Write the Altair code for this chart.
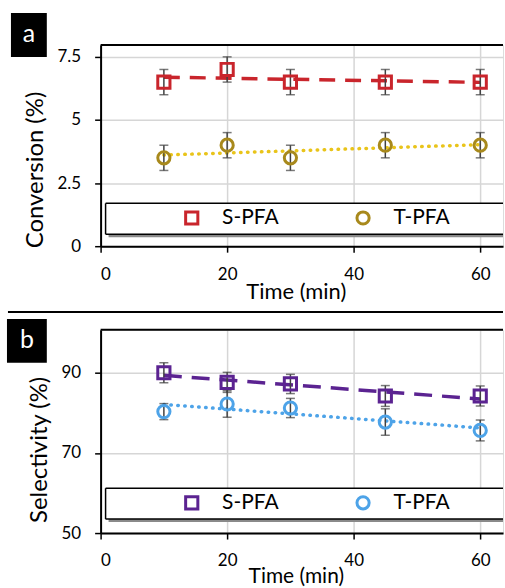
import altair as alt
import pandas as pd

# ---- data ----
time_min = [10, 20, 30, 45, 60]
series_names = ["S-PFA", "T-PFA"]

conv_s = [6.5, 7.0, 6.5, 6.5, 6.5]
conv_s_err = [0.5, 0.5, 0.5, 0.5, 0.5]
conv_t = [3.5, 4.0, 3.5, 4.0, 4.0]
conv_t_err = [0.5, 0.5, 0.5, 0.5, 0.5]

sel_s = [90.0, 87.6, 87.2, 84.2, 84.2]
sel_s_err = [2.5, 2.5, 2.4, 2.6, 2.5]
sel_t = [80.3, 82.2, 81.2, 77.7, 75.6]
sel_t_err = [2.0, 3.3, 2.4, 3.3, 2.6]

x_ticks = [0, 20, 40, 60]
FONT = "Lato"
W = 404


def make_df(vs, es, vt, et):
    rows = []
    for name, vals, errs in [(series_names[0], vs, es), (series_names[1], vt, et)]:
        for t, v, e in zip(time_min, vals, errs):
            rows.append(dict(time=t, value=v, lo=v - e, hi=v + e, series=name))
    return pd.DataFrame(rows)


def panel(df, ydom, yticks, ytitle, ytitle_x, ytitle_y, height, marker_colors,
          line_colors, dashes, label, label_box, xtitle_y, xtitle_size, sep=False):
    xs = alt.Scale(domain=[0, 63.6], nice=False, zero=False)
    ys = alt.Scale(domain=ydom, nice=False, zero=False)
    xaxis = alt.Axis(values=x_ticks, title="Time (min)", titleX=196, titleY=xtitle_y,
                     titleBaseline="top", titleFont=FONT, titleFontSize=xtitle_size,
                     titleFontWeight="normal", titleColor="black",
                     labelFont=FONT, labelFontSize=17, labelColor="black",
                     labelPadding=14, tickSize=6, tickColor="black", tickWidth=1.5,
                     domainColor="black", domainWidth=2, grid=True,
                     gridColor="#D6D6D6", gridWidth=1.5)
    yaxis = alt.Axis(values=yticks, format=".2~f", title=ytitle, titleX=ytitle_x,
                     titleY=ytitle_y, titleAngle=270, titleAlign="center",
                     titleBaseline="bottom", titleFont=FONT, titleFontSize=24,
                     titleFontWeight="normal", titleColor="black", labelFont=FONT,
                     labelFontSize=17, labelColor="black", labelPadding=14,
                     tickSize=6, tickColor="black", tickWidth=1.5,
                     domainColor="black", domainWidth=2, grid=True,
                     gridColor="#D6D6D6", gridWidth=1.5)
    leg = alt.Legend(orient="none", legendX=81, legendY=163, direction="horizontal",
                     title=None, labelFont=FONT, labelFontSize=21, labelColor="black",
                     symbolSize=150, symbolStrokeWidth=3, labelOffset=20,
                     columnPadding=72, padding=0)

    one = pd.DataFrame({"d": [0]})
    bx0, bx1, by0, by1 = label_box
    deco = []
    if sep:
        deco.append(alt.Chart(one).mark_rule(color="black", strokeWidth=2).encode(
            x=alt.value(-93), x2=alt.value(W), y=alt.value(-18)))
    deco += [
        alt.Chart(one).mark_rect(color="black").encode(
            x=alt.value(bx0), x2=alt.value(bx1), y=alt.value(by0), y2=alt.value(by1)),
        alt.Chart(one).mark_text(text=label, color="white", font=FONT, fontSize=25,
                                 align="center", baseline="middle").encode(
            x=alt.value((bx0 + bx1) / 2), y=alt.value((by0 + by1) / 2 - 1)),
        alt.Chart(one).mark_rule(color="black", strokeWidth=2).encode(
            x=alt.value(0), x2=alt.value(W), y=alt.value(0)),
        # legend frame (decoration, open on the cropped right side)
        alt.Chart(one).mark_rect(color="#8a8a8a").encode(
            x=alt.value(8), x2=alt.value(W), y=alt.value(162), y2=alt.value(193)),
        alt.Chart(one).mark_rect(color="white").encode(
            x=alt.value(5), x2=alt.value(W), y=alt.value(159), y2=alt.value(190)),
        alt.Chart(one).mark_rule(color="black", strokeWidth=1.5).encode(
            x=alt.value(5), x2=alt.value(W), y=alt.value(159)),
        alt.Chart(one).mark_rule(color="black", strokeWidth=1.5).encode(
            x=alt.value(5), x2=alt.value(W), y=alt.value(190)),
        alt.Chart(one).mark_rule(color="black", strokeWidth=1.5).encode(
            x=alt.value(5), y=alt.value(159), y2=alt.value(190)),
    ]
    data_layers = []
    # trend lines (least squares, computed by Vega-Lite)
    for name, col, dash in zip(series_names, line_colors, dashes):
        data_layers.append(
            alt.Chart(df).transform_filter(alt.datum.series == name)
            .transform_regression("time", "value", extent=[10, 60])
            .mark_line(color=col, strokeWidth=3.5, strokeDash=dash,
                       strokeCap="round" if name == "T-PFA" else "butt")
            .encode(x=alt.X("time:Q", scale=xs, axis=xaxis),
                    y=alt.Y("value:Q", scale=ys, axis=yaxis)))
    data_layers.append(
        alt.Chart(df).mark_errorbar(ticks=True, size=9, thickness=1.5, color="#404040")
        .encode(x=alt.X("time:Q", scale=xs, axis=xaxis),
                y=alt.Y("lo:Q", scale=ys, axis=yaxis), y2="hi:Q"))
    data_layers.append(
        alt.Chart(df).mark_point(filled=False, strokeWidth=3, size=150, opacity=1)
        .encode(x=alt.X("time:Q", scale=xs, axis=xaxis),
                y=alt.Y("value:Q", scale=ys, axis=yaxis),
                color=alt.Color("series:N", scale=alt.Scale(domain=series_names,
                                                            range=marker_colors),
                                legend=leg),
                shape=alt.Shape("series:N", scale=alt.Scale(domain=series_names,
                                                            range=["square", "circle"]),
                                legend=leg)))
    return alt.layer(*(deco + data_layers)).properties(width=W, height=height)


df_a = make_df(conv_s, conv_s_err, conv_t, conv_t_err)
df_b = make_df(sel_s, sel_s_err, sel_t, sel_t_err)

pa = panel(df_a, [0, 7.97], [0, 2.5, 5, 7.5], "Conversion (%)", -53, 125, 202,
           ["#C9252C", "#A8891C"], ["#C9252C", "#E9C41A"], [[16, 10], [0.5, 6.5]],
           "a", (-90, -54, -32, 12), 36, 22)
pb = panel(df_b, [50, 100.7], [50, 70, 90], "Selectivity (%)", -49, 120, 204,
           ["#5B2391", "#4DA3E8"], ["#5B2391", "#4DA3E8"], [[18, 10], [0.5, 6.5]],
           "b", (-94, -54, -11, 33), 33, 21, sep=True)

chart = alt.vconcat(pa, pb, spacing=84, bounds="flush").resolve_scale(
    x="independent", y="independent", color="independent", shape="independent"
).resolve_legend(color="independent", shape="independent").properties(
    padding={"left": 6, "top": 11, "right": 0, "bottom": 0}
).configure_view(strokeWidth=0, stroke="transparent").configure(background="white")

chart.save("out.html", embed_options={"renderer": "svg", "actions": False})
